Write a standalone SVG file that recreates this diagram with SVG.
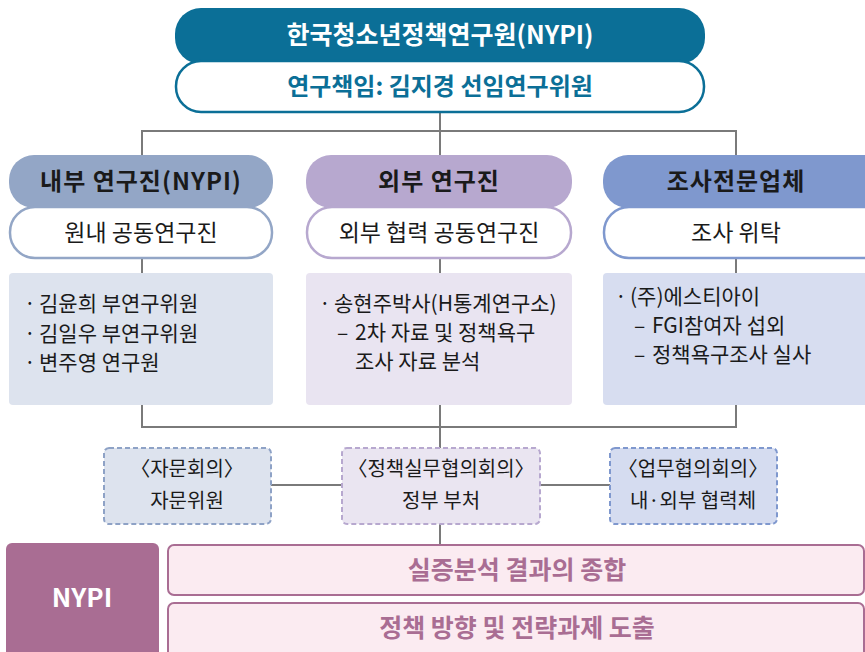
<svg xmlns="http://www.w3.org/2000/svg" width="865" height="652" viewBox="0 0 865 652">
<style>
text{font-family:"Noto Sans CJK KR","Noto Sans",sans-serif;}
.c{text-anchor:middle;}
.hd{font-size:24px;font-weight:bold;fill:#1a1a1a;letter-spacing:1px;}
.sub{font-size:23px;fill:#1a1a1a;}
.li{font-size:21px;fill:#1a1a1a;}
.dl{font-size:20px;fill:#1a1a1a;}
.ln{stroke:#7a7a7a;stroke-width:2;fill:none;}
.pk{font-size:25px;font-weight:bold;fill:#A96D93;}
</style>
<g id="connectors">
<path class="ln" d="M440 112 V131 M142 155 V131 H736 V155 M440 131 V155"/>
<path class="ln" d="M142 258 V273 M440 258 V273 M736 258 V273"/>
<path class="ln" d="M142 405 V427 H736 V405 M440 405 V448"/>
<path class="ln" d="M271 485 H342 M540 485 H610"/>
<path class="ln" d="M440 524 V545"/>
</g>
<g id="nypi-top">
<rect x="175" y="8" width="530" height="56" rx="26" fill="#0B6F97"/>
<text class="c" x="440" y="44" font-size="25" font-weight="bold" fill="#ffffff">한국청소년정책연구원(NYPI)</text>
</g>
<g id="lead">
<rect x="176" y="61" width="528" height="51" rx="25" fill="#ffffff" stroke="#0B6F97" stroke-width="2.5"/>
<text class="c" x="440" y="95" font-size="24" font-weight="bold" fill="#0B6F97">연구책임: 김지경 선임연구위원</text>
</g>
<g id="internal">
<rect x="9" y="155" width="264" height="53" rx="25" fill="#93A6C6"/>
<text class="c hd" x="141" y="190">내부 연구진(NYPI)</text>
<rect x="10" y="207" width="262" height="51" rx="25" fill="#ffffff" stroke="#93A6C6" stroke-width="2.5"/>
<text class="c sub" x="141" y="241">원내 공동연구진</text>
<rect x="9" y="273" width="264" height="132" rx="4" fill="#DDE3EE"/>
<text class="li" x="24" y="311">·</text><text class="li" x="39" y="311">김윤희 부연구위원</text>
<text class="li" x="24" y="341">·</text><text class="li" x="39" y="341">김일우 부연구위원</text>
<text class="li" x="24" y="370">·</text><text class="li" x="39" y="370">변주영 연구원</text>
</g>
<g id="external">
<rect x="306" y="155" width="266" height="53" rx="25" fill="#B7A8CF"/>
<text class="c hd" x="439" y="190">외부 연구진</text>
<rect x="307" y="207" width="264" height="51" rx="25" fill="#ffffff" stroke="#B7A8CF" stroke-width="2.5"/>
<text class="c sub" x="439" y="241">외부 협력 공동연구진</text>
<rect x="306" y="273" width="266" height="132" rx="4" fill="#E9E4F1"/>
<text class="li" x="319" y="311">·</text><text class="li" x="334" y="311">송현주박사(H통계연구소)</text>
<text class="li" x="337" y="340">–</text><text class="li" x="355" y="340">2차 자료 및 정책욕구</text>
<text class="li" x="355" y="369">조사 자료 분석</text>
</g>
<g id="survey">
<rect x="603" y="155" width="290" height="53" rx="25" fill="#7F98CE"/>
<text class="c hd" x="736" y="190">조사전문업체</text>
<rect x="604" y="207" width="288" height="51" rx="25" fill="#ffffff" stroke="#7F98CE" stroke-width="2.5"/>
<text class="c sub" x="736" y="241">조사 위탁</text>
<rect x="603" y="273" width="290" height="132" rx="4" fill="#D7DDF0"/>
<text class="li" x="615" y="304">·</text><text class="li" x="630" y="304">(주)에스티아이</text>
<text class="li" x="634" y="333">–</text><text class="li" x="652" y="333">FGI참여자 섭외</text>
<text class="li" x="634" y="362">–</text><text class="li" x="652" y="362">정책욕구조사 실사</text>
</g>
<g id="advisory">
<rect x="104" y="448" width="167" height="76" rx="5" fill="#DDE3EE" stroke="#8EA2C6" stroke-width="2" stroke-dasharray="5 3"/>
<text class="c dl" x="187" y="476">〈자문회의〉</text>
<text class="c dl" x="187" y="508">자문위원</text>
</g>
<g id="policy-council">
<rect x="342" y="448" width="198" height="76" rx="5" fill="#EAE5F1" stroke="#B7A8CF" stroke-width="2" stroke-dasharray="5 3"/>
<text class="c dl" x="441" y="476">〈정책실무협의회의〉</text>
<text class="c dl" x="441" y="508">정부 부처</text>
</g>
<g id="work-council">
<rect x="610" y="448" width="167" height="76" rx="5" fill="#D5DCF0" stroke="#7F98CE" stroke-width="2" stroke-dasharray="5 3"/>
<text class="c dl" x="693" y="476">〈업무협의회의〉</text>
<text class="c dl" x="693" y="508">내·외부 협력체</text>
</g>
<g id="nypi-bottom">
<rect x="6" y="543" width="153" height="115" rx="6" fill="#A96D93"/>
<text class="c" x="82" y="607" font-size="26" font-weight="bold" fill="#ffffff">NYPI</text>
</g>
<g id="synthesis">
<rect x="168" y="545" width="696" height="50" rx="6" fill="#FBEBF1" stroke="#A96D93" stroke-width="2"/>
<text class="c pk" x="517" y="579">실증분석 결과의 종합</text>
</g>
<g id="derivation">
<rect x="168" y="603" width="696" height="55" rx="6" fill="#FBEBF1" stroke="#A96D93" stroke-width="2"/>
<text class="c pk" x="517" y="637">정책 방향 및 전략과제 도출</text>
</g>
</svg>
